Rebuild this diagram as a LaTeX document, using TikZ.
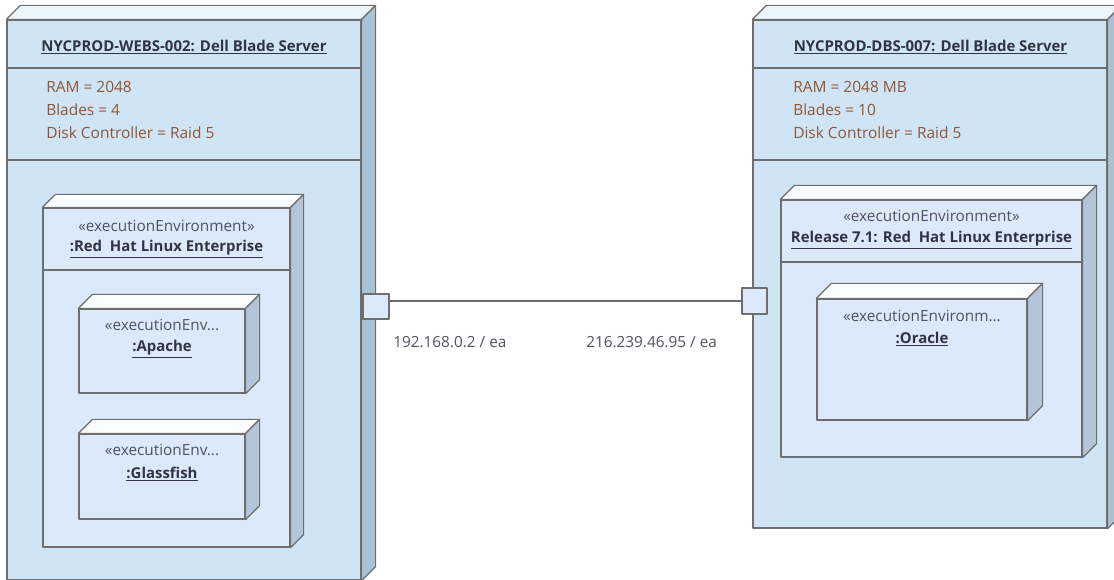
\documentclass[tikz,border=0pt]{standalone}
\usepackage{fontspec}
\setmainfont{Open Sans}
\usetikzlibrary{fit, positioning}

\definecolor{srvfill}{RGB}{207,228,244}
\definecolor{srvside}{RGB}{168,194,213}
\definecolor{srvtop}{RGB}{234,245,252}
\definecolor{envfill}{RGB}{219,233,250}
\definecolor{envside}{RGB}{180,197,217}
\definecolor{envtop}{RGB}{250,252,255}
\definecolor{edgegray}{RGB}{110,110,110}
\definecolor{attrbrown}{RGB}{143,86,55}
\definecolor{namedark}{RGB}{50,52,68}

\newcommand{\boxfaces}[4]{%
  \draw[face, fill=#3] (#1.north west) -- ++(#2,-#2) -- ([shift={(#2,-#2)}]#1.north east) -- (#1.north east) -- cycle;
  \draw[face, fill=#4] (#1.north east) -- ++(#2,-#2) -- ([shift={(#2,-#2)}]#1.south east) -- (#1.south east) -- cycle;}

\begin{document}
\begin{tikzpicture}[x=0.75pt, y=-0.75pt,
    face/.style={draw=edgegray, line width=0.9pt, line join=round},
    server/.style={face, fill=srvfill, inner sep=0pt},
    envbox/.style={face, fill=envfill, inner sep=0pt},
    port/.style={face, fill=envfill, inner sep=0pt},
    sep/.style={draw=edgegray, line width=0.9pt},
    nametext/.style={font=\fontsize{11.2}{13}\selectfont\bfseries, text=namedark, inner sep=1pt},
    stereo/.style={font=\fontsize{11.5}{13}\selectfont, text=namedark!85, inner sep=1pt},
    attr/.style={font=\fontsize{11.6}{13}\selectfont, text=attrbrown, anchor=west, inner sep=0pt},
    portlabel/.style={font=\fontsize{11.5}{13}\selectfont, text=namedark!85, anchor=west, inner sep=0pt}]
  \clip (0,0) rectangle (1114,580);

  \node[server, fit={(7,20) (361,580)}] (webs) {};
  \boxfaces{webs}{14}{srvtop}{srvside}
  \draw[sep] (webs.west |- 0,68) -- (webs.east |- 0,68);
  \draw[sep] (webs.west |- 0,160) -- (webs.east |- 0,160);
  \node[nametext] (websname) at (184,47) {\underline{NYCPROD-WEBS-002: Dell Blade Server}};
  \node[attr] (websram) at (46,87) {RAM = 2048};
  \node[attr] (websblades) at (46,110) {Blades = 4};
  \node[attr] (websdisk) at (46,133) {Disk Controller = Raid 5};

  \node[server, fit={(753,20) (1107,528)}] (dbs) {};
  \boxfaces{dbs}{14}{srvtop}{srvside}
  \draw[sep] (dbs.west |- 0,68) -- (dbs.east |- 0,68);
  \draw[sep] (dbs.west |- 0,160) -- (dbs.east |- 0,160);
  \node[nametext] (dbsname) at (930.5,47) {\underline{NYCPROD-DBS-007: Dell Blade Server}};
  \node[attr] (dbsram) at (793,87) {RAM = 2048 MB};
  \node[attr] (dbsblades) at (793,110) {Blades = 10};
  \node[attr] (dbsdisk) at (793,133) {Disk Controller = Raid 5};

  \node[envbox, fit={(43,208) (290,547)}] (linuxa) {};
  \boxfaces{linuxa}{13}{envtop}{envside}
  \draw[sep] (linuxa.west |- 0,270) -- (linuxa.east |- 0,270);
  \node[stereo] (linuxast) at (166.5,226) {«executionEnvironment»};
  \node[nametext] (linuxaname) at (166.5,249) {\underline{:Red\ \ Hat Linux Enterprise}};

  \node[envbox, fit={(79,309) (245,393)}] (apache) {};
  \boxfaces{apache}{14}{envtop}{envside}
  \node[stereo] (apachest) at (162,325) {«executionEnv...};
  \node[nametext] (apachename) at (162,349) {\underline{:Apache}};

  \node[envbox, fit={(79,434) (245,519)}] (glass) {};
  \boxfaces{glass}{14}{envtop}{envside}
  \node[stereo] (glassst) at (162,450) {«executionEnv...};
  \node[nametext] (glassname) at (162,474) {\underline{:Glassfish}};

  \node[envbox, fit={(781,200) (1082,457)}] (linuxb) {};
  \boxfaces{linuxb}{14}{envtop}{envside}
  \draw[sep] (linuxb.west |- 0,262) -- (linuxb.east |- 0,262);
  \node[stereo] (linuxbst) at (931.5,216) {«executionEnvironment»};
  \node[nametext] (linuxbname) at (931.5,240) {\underline{Release 7.1: Red\ \ Hat Linux Enterprise}};

  \node[envbox, fit={(817,299) (1027,420)}] (oracle) {};
  \boxfaces{oracle}{15}{envtop}{envside}
  \node[stereo] (oraclest) at (922,316) {«executionEnvironm...};
  \node[nametext] (oraclename) at (922,339) {\underline{:Oracle}};

  \node[port, fit={(363,294) (389,319)}] (wport) {};
  \node[port, fit={(742,288) (767,314)}] (dport) {};
  \draw[sep] (dport.west) -- (dport.west -| wport.east);
  \node[portlabel] (wportlbl) at (393,342) {192.168.0.2 / ea};
  \node[portlabel] (dportlbl) at (586,342) {216.239.46.95 / ea};
\end{tikzpicture}
\end{document}
